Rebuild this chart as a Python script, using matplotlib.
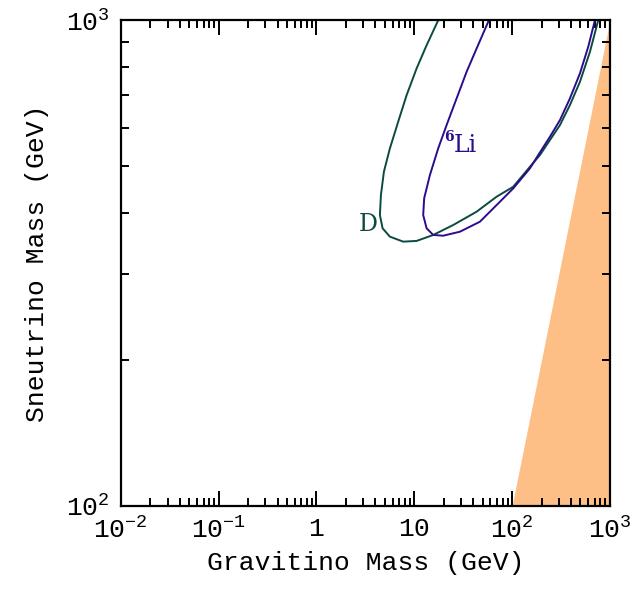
import numpy as np
import matplotlib
matplotlib.use("Agg")
import matplotlib.pyplot as plt
from matplotlib.ticker import NullFormatter

# D contour (gravitino mass, sneutrino mass), GeV
d_x = [17.56, 13.36, 10.56, 8.35, 6.84, 5.63, 4.89, 4.56, 4.45, 4.74, 5.63, 7.70, 10.56,
       15.61, 24.98, 43.35, 69.4, 102.6, 152.1, 192.4, 243.5, 308.3, 389.9, 493.5, 624.5, 759.3]
d_y = [1000, 888, 795.6, 701, 617.6, 544.5, 487.4, 436.5, 397, 372.8, 358.3, 349.9, 351.1,
       361.2, 378.6, 403.3, 433, 453.9, 499, 527.5, 566.4, 608.1, 668.6, 746.5, 860.6, 1000]

# 6Li contour
li_x = [57.9, 43.35, 34.25, 27.07, 21.39, 17.56, 14.44, 12.62, 12.33, 13.36, 15.61, 19.75,
        29.27, 46.85, 69.4, 102.6, 152.1, 184.9, 243.5, 308.3, 389.9, 493.5, 600, 702.5]
li_y = [1000, 874.5, 782.8, 690.1, 608.1, 544.5, 479.8, 429.8, 397, 372.8, 361.2, 359.9,
        366.8, 384.6, 416.2, 450.4, 495.3, 527.5, 575.3, 622.6, 690.1, 776.9, 881.4, 1000]

# excluded region: sneutrino lighter than gravitino
excl_x = [100, 1000]

xticks = [1e-2, 1e-1, 1, 10, 1e2, 1e3]
xlabels = ['$10^{-2}$', '$10^{-1}$', '1', '10', '$10^{2}$', '$10^{3}$']
yticks = [1e2, 1e3]
ylabels = ['$10^{2}$', '$10^{3}$']

plt.rcParams['font.family'] = ['Liberation Mono', 'DejaVu Sans']
plt.rcParams['mathtext.fontset'] = 'custom'
plt.rcParams['mathtext.rm'] = 'Liberation Mono'
plt.rcParams['mathtext.it'] = 'Liberation Mono'

fig = plt.figure(figsize=(6.36, 5.95), dpi=100)
ax = fig.add_axes([0.190, 0.150, 0.769, 0.816])
ax.set_xscale('log')
ax.set_yscale('log')

ex = np.array(excl_x, dtype=float)
ax.fill_between(ex, [100, 100], ex, color='#fdbf86', lw=0)

ax.plot(d_x, d_y, color='#0b4a40', lw=1.4)
ax.plot(li_x, li_y, color='#2c0b8c', lw=1.4)

ax.text(3.36, 379, 'D', color='#0b4a40', fontsize=17, family='DejaVu Serif',
        ha='center', va='center')
ax.text(33, 553, 'Li', color='#2c0b8c', fontsize=17, family='DejaVu Serif',
        ha='center', va='center')
ax.text(22.5, 575, '6', color='#2c0b8c', fontsize=10, family='DejaVu Serif',
        ha='center', va='center', fontweight='bold')

ax.set_xlim(1e-2, 1e3)
ax.set_ylim(1e2, 1e3)
ax.set_xticks(xticks)
ax.set_xticklabels(xlabels)
ax.set_yticks(yticks)
ax.set_yticklabels(ylabels)
ax.xaxis.set_minor_formatter(NullFormatter())
ax.yaxis.set_minor_formatter(NullFormatter())
ax.tick_params(which='both', direction='in', top=True, right=True, width=1.4, labelsize=19)
ax.tick_params(which='major', length=11, pad=8)
ax.tick_params(which='minor', length=6)
for s in ax.spines.values():
    s.set_linewidth(1.6)

ax.set_xlabel('Gravitino Mass (GeV)', fontsize=19, labelpad=6)
ax.set_ylabel('Sneutrino Mass (GeV)', fontsize=19, labelpad=12)

fig.savefig('out.png', dpi=100)
